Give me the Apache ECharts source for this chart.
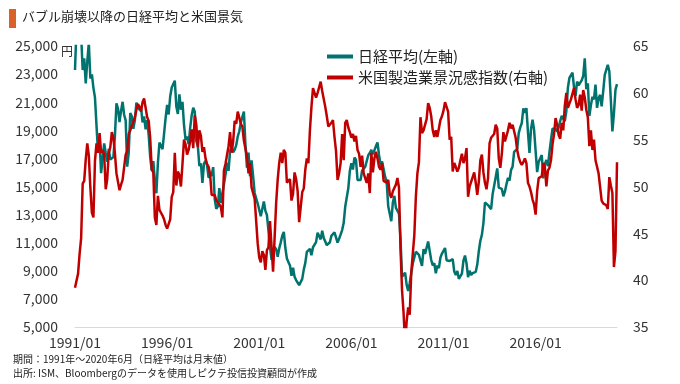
<!DOCTYPE html>
<html><head><meta charset="utf-8">
<script src="https://cdn.jsdelivr.net/npm/echarts@6/dist/echarts.min.js"></script>
<style>html,body{margin:0;padding:0;background:#fff}#c{width:680px;height:384px}</style>
</head><body><div id="c"></div>
<script>
// Categories: monthly, 1991/01 .. 2020/06
const startYear = 1991, endYear = 2020, endMonth = 6;
const months = [];
for (let y = startYear; y <= endYear; y++) {
  for (let m = 1; m <= 12; m++) {
    if (y === endYear && m > endMonth) break;
    months.push(y + '/' + String(m).padStart(2, '0'));
  }
}
const leftTicks = [5000, 25000, 2000];
const rightTicks = [35, 65, 5];

// 日経平均 (month-end, yen)
const nikkei = [
  23293,26409,26292,26111,25790,23291,24120,22336,23916,25222,22687,22984,
  22023,21339,19346,17391,18348,15951,15910,18061,17399,16767,17683,16925,
  17024,17098,18591,20919,20552,19590,20380,21027,20106,19704,16408,17417,
  20229,19997,19112,19725,20974,20644,20462,20629,19564,19990,19076,19723,
  18650,17053,16140,16807,15437,14517,16678,18117,17913,17655,18744,19868,
  20813,20125,21407,22041,21956,22531,20693,20167,21556,20467,21020,19361,
  18330,18557,18003,19151,20068,20605,20331,18229,17888,16459,16636,15259,
  16628,16832,16527,15641,15671,15830,16379,14108,13406,13565,14884,13842,
  14499,14368,15837,16702,16112,17530,17862,17437,17605,17942,18558,18934,
  19540,19960,20337,17974,16332,17411,15727,16861,15747,14539,14649,13786,
  13843,12884,13000,13934,13262,12969,11861,10714,9775,10366,10697,10543,
  9998,10588,11025,11493,11764,10622,9877,9619,9383,8640,9216,8579,
  8340,8363,7973,7831,8425,9083,9563,10344,10219,10560,10101,10677,
  10784,11042,11715,11762,11236,11859,11326,11082,10824,10771,11031,11489,
  11388,11740,11669,11009,11277,11584,11900,12414,13574,13607,14872,16111,
  16650,16206,17060,16906,15467,15505,15457,16141,16128,16399,16274,17226,
  17383,17604,17288,17400,17876,18138,17249,16569,16786,16738,15681,15308,
  13593,13604,12526,13850,14339,13482,13377,13073,11260,8577,8512,8860,
  7994,7568,8110,8828,9523,9958,10357,10493,10133,10035,9346,10546,
  10198,10126,11090,11057,9769,9383,9537,8824,9369,9202,9937,10229,
  10238,10624,9755,9850,9694,9816,9833,8955,8700,8988,8435,8455,
  8803,9723,10084,9521,8543,9007,8695,8840,8870,8928,9446,10395,
  11139,11559,12398,13861,13775,13677,13668,13389,14456,14328,15662,16291,
  14915,14841,14828,14304,14632,15162,15621,15425,16174,16414,17460,17451,
  17674,18798,19207,19520,20563,20236,20585,18890,17388,19083,19747,19034,
  17518,16027,16759,16666,17235,15576,16569,16887,16450,17425,18308,19114,
  19041,19119,18909,19197,19651,20033,19925,19646,20356,22012,22725,22765,
  23098,22068,21454,22468,22202,22305,22554,22865,24120,21920,22351,20015,
  20773,21385,21206,22259,20601,21276,21522,20704,21756,22927,23294,23657,
  23205,21143,18917,20194,21878,22288
];

// 米国製造業景況感指数 (ISM)
const ism = [
  39.2,39.4,40.7,42.8,44.5,50.3,50.6,52.9,54.6,53.3,49.9,47.2,
  46.7,52.7,54.6,53.6,55.7,53.6,53.9,53.4,49.7,50.8,53.6,54.2,
  55.8,55.2,53.5,51.4,51.2,49.6,50.2,50.7,50.8,53.4,53.8,55.6,
  56.0,56.5,56.9,57.4,58.2,58.8,58.5,58.0,59.0,59.4,59.2,57.4,
  57.0,55.1,51.8,51.5,46.7,45.9,49.0,47.5,47.2,46.9,46.5,45.9,
  45.5,45.6,46.5,48.9,49.4,53.6,50.1,51.6,51.2,50.0,52.4,55.0,
  54.5,53.4,53.9,54.8,56.1,54.1,57.6,56.6,54.2,56.0,55.4,53.7,
  54.2,53.0,52.4,52.1,51.3,49.1,49.0,49.1,48.5,48.3,48.1,47.8,
  46.7,51.7,52.4,52.3,54.3,55.8,53.6,54.8,57.0,56.7,58.0,57.8,
  56.7,56.4,54.9,54.7,53.2,51.4,52.5,49.9,49.7,48.7,48.5,43.9,
  42.4,41.9,43.1,42.7,41.1,43.2,43.5,46.3,46.2,40.9,44.5,48.2,
  50.7,52.5,53.6,52.5,53.9,53.6,50.4,50.6,50.8,48.5,49.2,51.5,
  50.8,49.5,46.2,46.1,49.4,49.8,51.8,53.0,52.5,56.0,58.5,60.5,
  60.0,59.5,60.0,60.6,61.2,60.2,60.4,58.5,57.5,56.4,56.5,56.8,
  57.1,55.3,53.8,50.7,51.4,52.5,55.6,52.8,56.8,57.1,56.3,55.8,
  55.2,55.6,54.8,55.4,53.9,53.5,52.1,53.3,51.4,50.9,50.4,51.4,
  49.3,53.6,51.5,53.0,53.7,53.0,52.1,51.8,52.5,50.6,50.8,50.4,
  50.7,49.2,48.8,49.5,49.6,50.2,50.9,49.9,43.4,38.9,36.5,33.1,
  35.6,37.1,36.3,40.8,42.8,44.8,48.9,51.4,52.6,57.4,55.7,56.0,
  56.0,57.2,58.9,58.4,57.5,56.0,55.3,56.0,55.3,56.2,57.1,57.5,
  58.1,59.0,58.5,58.0,55.0,55.3,51.6,52.5,52.1,51.6,52.0,52.8,
  53.5,52.5,53.0,54.1,48.9,50.0,49.8,51.0,51.5,50.4,49.1,50.5,
  52.8,53.4,51.5,50.4,49.7,50.9,54.6,55.2,55.4,55.6,56.6,56.2,
  53.0,52.0,53.5,55.8,54.8,54.7,56.0,56.8,56.2,56.6,56.8,55.2,
  53.9,53.1,52.6,52.3,52.6,53.0,52.5,50.4,50.0,49.4,48.6,48.1,
  47.0,49.5,50.9,50.8,51.1,52.5,52.1,50.0,51.7,52.0,52.8,54.5,
  55.6,57.3,56.6,55.5,55.1,56.8,56.0,58.6,60.0,58.4,58.2,59.3,
  59.1,60.5,59.3,58.4,58.7,59.8,58.1,60.3,59.5,58.2,57.4,54.3,
  56.0,53.9,55.0,52.8,52.1,51.4,51.2,48.5,48.2,48.1,48.0,47.6,
  51.0,50.1,49.3,41.4,43.1,52.6
];

const seriesNames = ['日経平均(左軸)', '米国製造業景況感指数(右軸)'];
const titleText = 'バブル崩壊以降の日経平均と米国景気';
const unitText = '円';
const notes = ['期間：1991年～2020年6月（日経平均は月末値）', '出所: ISM、Bloombergのデータを使用しピクテ投信投資顧問が作成'];

const FONT = '"Noto Sans CJK JP", "Noto Sans", sans-serif';
const chart = echarts.init(document.getElementById('c'), null, {renderer: 'canvas'});
chart.setOption({
  animation: false,
  backgroundColor: '#fff',
  textStyle: {fontFamily: FONT},
  grid: {left: 75, right: 63, top: 46, bottom: 57, containLabel: false},
  graphic: [
    {type: 'rect', left: 9, top: 9, shape: {width: 7, height: 19}, style: {fill: '#d9622b'}},
    {type: 'text', left: 22, top: 10, style: {text: titleText, font: '13px ' + FONT, fill: '#222'}},
    {type: 'text', left: 61, top: 45, style: {text: unitText, font: '12px ' + FONT, fill: '#333'}},
    {type: 'text', left: 13, top: 354, style: {text: notes[0], font: '10px ' + FONT, fill: '#222'}},
    {type: 'text', left: 13, top: 368, style: {text: notes[1], font: '10px ' + FONT, fill: '#222'}}
  ],
  legend: {
    orient: 'vertical', left: 322, top: 44, itemGap: 6,
    itemWidth: 26, itemHeight: 4, icon: 'rect',
    textStyle: {fontSize: 15, color: '#222', lineHeight: 15, fontFamily: FONT},
    data: seriesNames
  },
  xAxis: {
    type: 'category', data: months, boundaryGap: false,
    axisLine: {lineStyle: {color: '#d9d9d9', width: 1}},
    axisTick: {show: false},
    axisLabel: {interval: 59, color: '#333', fontSize: 14, margin: 9, fontFamily: FONT},
    splitLine: {show: false}
  },
  yAxis: [
    {type: 'value', min: leftTicks[0], max: leftTicks[1], interval: leftTicks[2],
     axisLine: {show: false}, axisTick: {show: false}, splitLine: {show: false},
     axisLabel: {color: '#333', fontSize: 14, margin: 17, fontFamily: FONT,
       formatter: v => v.toLocaleString('en-US')}},
    {type: 'value', min: rightTicks[0], max: rightTicks[1], interval: rightTicks[2],
     axisLine: {show: false}, axisTick: {show: false}, splitLine: {show: false},
     axisLabel: {color: '#333', fontSize: 14, margin: 16, fontFamily: FONT}}
  ],
  series: [
    {name: seriesNames[0], type: 'line', yAxisIndex: 0, data: nikkei, showSymbol: false, symbol: 'none',
     lineStyle: {color: '#00736e', width: 2.5}, itemStyle: {color: '#00736e'}, clip: true, z: 2},
    {name: seriesNames[1], type: 'line', yAxisIndex: 1, data: ism, showSymbol: false, symbol: 'none',
     lineStyle: {color: '#c00000', width: 2.5}, itemStyle: {color: '#c00000'}, clip: true, z: 3}
  ]
});
</script></body></html>
